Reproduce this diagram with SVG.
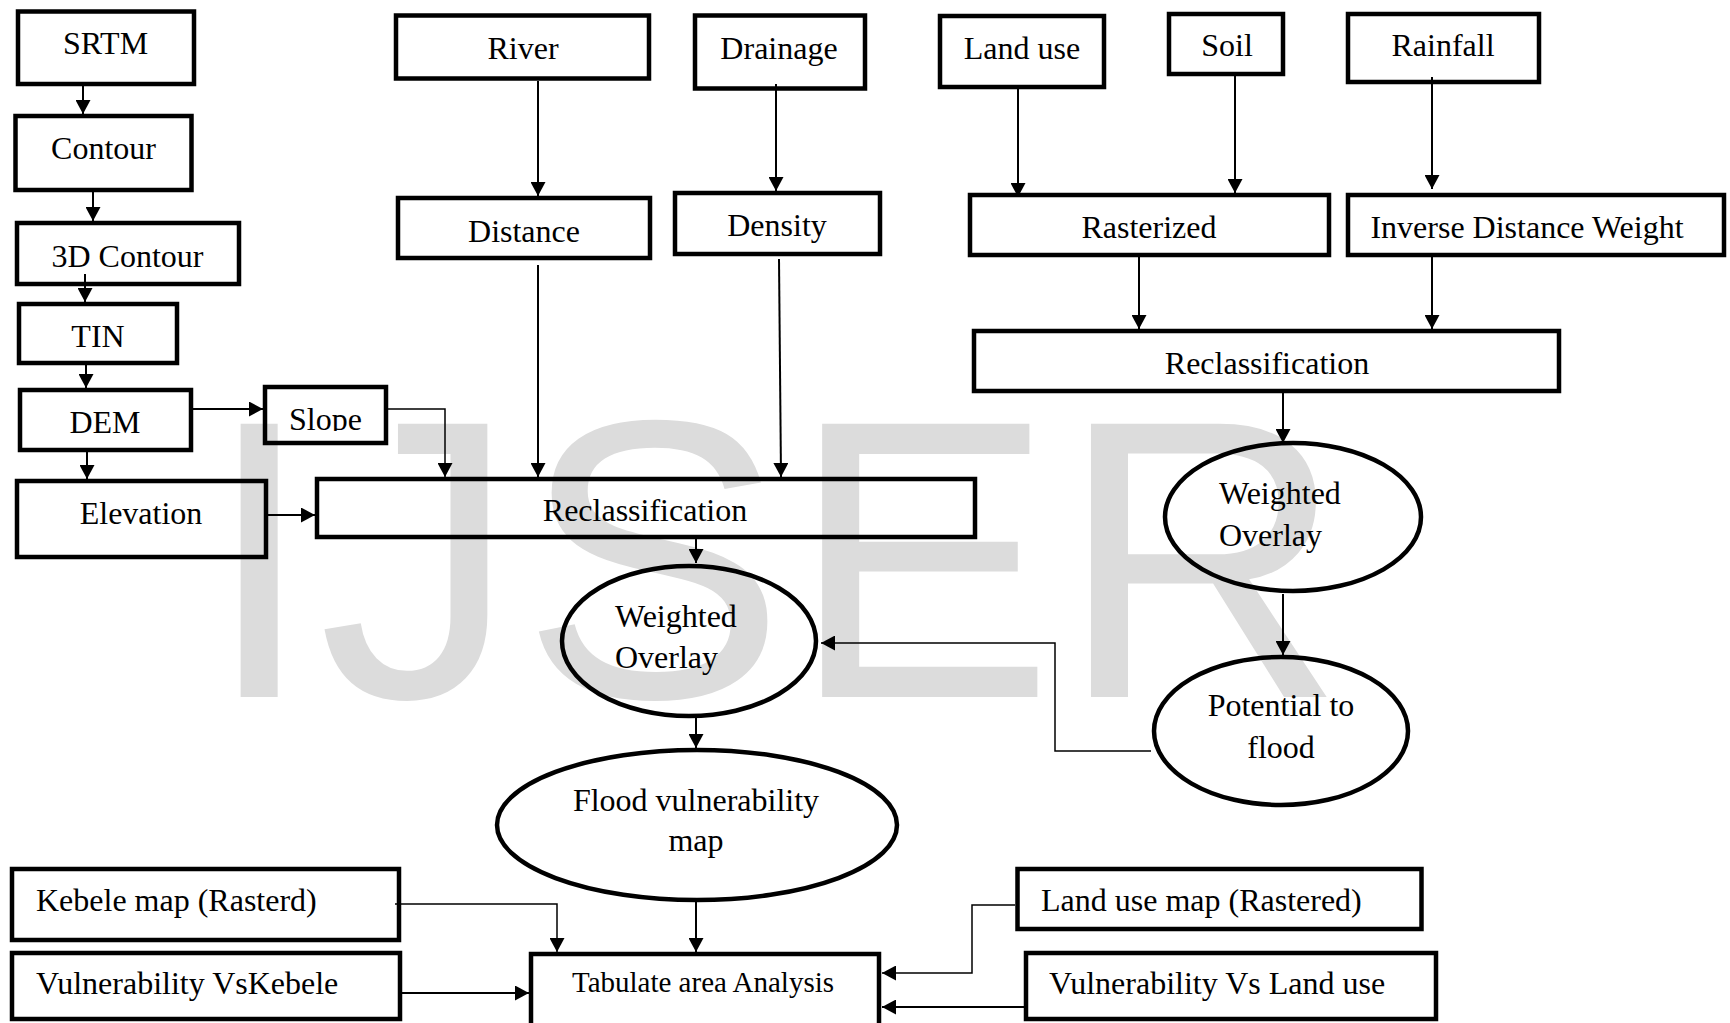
<svg xmlns="http://www.w3.org/2000/svg" width="1730" height="1023" viewBox="0 0 1730 1023">
<style>
.b{fill:none;stroke:#000;stroke-width:4.5}
.t{font-family:"Liberation Serif","Times New Roman",serif;font-size:32px;fill:#000}
.m{text-anchor:middle}
.c{fill:none;stroke:#000;stroke-width:2}
.th{fill:none;stroke:#000;stroke-width:1.5}
.wm{font-family:"Liberation Sans",Arial,sans-serif;font-size:397px;fill:#dcdcdc}
</style>
<defs>
<marker id="ah" markerUnits="userSpaceOnUse" markerWidth="14" markerHeight="15" refX="14" refY="7.5" orient="auto"><path d="M0,0 L14,7.5 L0,15 z" fill="#000"/></marker>
<clipPath id="slopeclip"><rect x="265" y="380" width="121" height="51"/></clipPath>
</defs>
<rect width="1730" height="1023" fill="#fff"/>
<text class="wm" x="204" y="697" letter-spacing="4">IJSER</text>

<g id="connectors">
<path class="c" d="M83,86 V114" marker-end="url(#ah)"/>
<path class="c" d="M93,192 V221" marker-end="url(#ah)"/>
<path class="c" d="M85,274 V302" marker-end="url(#ah)"/>
<path class="c" d="M86,365 V388" marker-end="url(#ah)"/>
<path class="c" d="M193,409 H263" marker-end="url(#ah)"/>
<path class="c" d="M87,452 V479" marker-end="url(#ah)"/>
<path class="c" d="M268,515 H315" marker-end="url(#ah)"/>
<path class="th" d="M388,409 H445 V477" marker-end="url(#ah)"/>
<path class="c" d="M538,81 V196" marker-end="url(#ah)"/>
<path class="c" d="M538,265 V477" marker-end="url(#ah)"/>
<path class="c" d="M776,84 V191" marker-end="url(#ah)"/>
<path class="c" d="M779,259 L781,477" marker-end="url(#ah)"/>
<path class="c" d="M696,539 V563" marker-end="url(#ah)"/>
<path class="c" d="M1018,89 V197" marker-end="url(#ah)"/>
<path class="c" d="M1235,76 V193" marker-end="url(#ah)"/>
<path class="c" d="M1432,77 V189" marker-end="url(#ah)"/>
<path class="c" d="M1139,257 V329" marker-end="url(#ah)"/>
<path class="c" d="M1432,257 V329" marker-end="url(#ah)"/>
<path class="c" d="M1283,393 V443" marker-end="url(#ah)"/>
<path class="c" d="M1283,594 V655" marker-end="url(#ah)"/>
<path class="th" d="M1151,751 H1055 V643 H821" marker-end="url(#ah)"/>
<path class="c" d="M696,718 V748" marker-end="url(#ah)"/>
<path class="c" d="M696,902 V952" marker-end="url(#ah)"/>
<path class="th" d="M395,904 H557 V952" marker-end="url(#ah)"/>
<path class="c" stroke-width="2.5" d="M402,993 H529" marker-end="url(#ah)"/>
<path class="th" d="M1015,905 H972 V973 H882" marker-end="url(#ah)"/>
<path class="c" d="M1024,1007 H882" marker-end="url(#ah)"/>
</g>

<g id="srtm"><rect class="b" x="18" y="11.5" width="176" height="72.5"/><text class="t m" x="105.5" y="54">SRTM</text></g>
<g id="contour"><rect class="b" x="15.5" y="116" width="176" height="74"/><text class="t m" x="103.5" y="159">Contour</text></g>
<g id="contour3d"><rect class="b" x="17" y="223" width="222" height="61"/><text class="t m" x="127.5" y="267">3D Contour</text></g>
<g id="tin"><rect class="b" x="19" y="304" width="158" height="59"/><text class="t m" x="98" y="347">TIN</text></g>
<g id="dem"><rect class="b" x="20" y="390" width="171" height="60"/><text class="t m" x="105" y="433">DEM</text></g>
<g id="slope"><rect class="b" x="265" y="387" width="121" height="56"/><text class="t" x="289" y="430" clip-path="url(#slopeclip)">Slope</text></g>
<g id="elevation"><rect class="b" x="17" y="481" width="249" height="76"/><text class="t m" x="141" y="524">Elevation</text></g>
<g id="river"><rect class="b" x="396" y="15.5" width="253" height="63"/><text class="t m" x="523" y="59">River</text></g>
<g id="drainage"><rect class="b" x="695" y="15.5" width="170" height="73"/><text class="t m" x="779" y="59">Drainage</text></g>
<g id="distance"><rect class="b" x="398" y="198" width="252" height="60"/><text class="t m" x="524" y="242">Distance</text></g>
<g id="density"><rect class="b" x="675" y="193" width="205" height="61"/><text class="t m" x="777" y="236">Density</text></g>
<g id="landuse"><rect class="b" x="940" y="16" width="164" height="71"/><text class="t m" x="1022" y="59">Land use</text></g>
<g id="soil"><rect class="b" x="1169" y="14" width="114" height="60"/><text class="t m" x="1227" y="56">Soil</text></g>
<g id="rainfall"><rect class="b" x="1348" y="14" width="191" height="68"/><text class="t m" x="1443" y="56">Rainfall</text></g>
<g id="rasterized"><rect class="b" x="970" y="195" width="359" height="60"/><text class="t m" x="1149" y="238">Rasterized</text></g>
<g id="idw"><rect class="b" x="1348" y="195" width="376" height="60"/><text class="t m" x="1527" y="238">Inverse Distance Weight</text></g>
<g id="reclass1"><rect class="b" x="317" y="479" width="658" height="58"/><text class="t m" x="645" y="521">Reclassification</text></g>
<g id="reclass2"><rect class="b" x="974" y="331" width="585" height="60"/><text class="t m" x="1267" y="374">Reclassification</text></g>
<g id="overlay1"><ellipse class="b" cx="689" cy="641" rx="127" ry="75"/><text class="t" x="615" y="627">Weighted</text><text class="t" x="615" y="668">Overlay</text></g>
<g id="overlay2"><ellipse class="b" cx="1293" cy="517" rx="128" ry="74"/><text class="t" x="1219" y="504">Weighted</text><text class="t" x="1219" y="546">Overlay</text></g>
<g id="potential"><ellipse class="b" cx="1281" cy="731" rx="127" ry="74"/><text class="t m" x="1281" y="716">Potential to</text><text class="t m" x="1281" y="758">flood</text></g>
<g id="fvm"><ellipse class="b" cx="697" cy="825" rx="200" ry="75"/><text class="t m" x="696" y="811">Flood vulnerability</text><text class="t m" x="696" y="851">map</text></g>
<g id="kebele"><rect class="b" x="12" y="869" width="387" height="71"/><text class="t" x="36" y="911">Kebele map (Rasterd)</text></g>
<g id="vskebele"><rect class="b" x="12" y="953" width="388" height="66"/><text class="t" x="36" y="994">Vulnerability VsKebele</text></g>
<g id="tabulate"><rect class="b" x="531" y="954" width="348" height="100"/><text class="t m" x="703" y="992" style="font-size:29px">Tabulate area Analysis</text></g>
<g id="landusemap"><rect class="b" x="1017.5" y="869" width="404" height="60"/><text class="t" x="1041" y="911">Land use map (Rastered)</text></g>
<g id="vslanduse"><rect class="b" x="1026" y="953" width="410" height="66"/><text class="t" x="1049" y="994">Vulnerability Vs Land use</text></g>
</svg>
